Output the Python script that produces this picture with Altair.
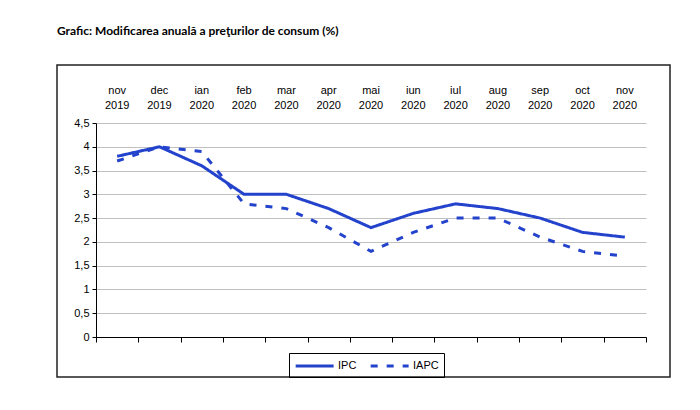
import altair as alt
import pandas as pd

months = ["nov 2019", "dec 2019", "ian 2020", "feb 2020", "mar 2020", "apr 2020", "mai 2020",
          "iun 2020", "iul 2020", "aug 2020", "sep 2020", "oct 2020", "nov 2020"]
ipc = [3.8, 4.0, 3.6, 3.0, 3.0, 2.7, 2.3, 2.6, 2.8, 2.7, 2.5, 2.2, 2.1]
iapc = [3.7, 4.0, 3.9, 2.8, 2.7, 2.3, 1.8, 2.2, 2.5, 2.5, 2.1, 1.8, 1.7]
series = ["IPC", "IAPC"]
y_ticks = [0, 0.5, 1, 1.5, 2, 2.5, 3, 3.5, 4, 4.5]

rows = []
for i, m in enumerate(months):
    rows.append({"luna": m, "serie": "IPC", "valoare": ipc[i], "ord": i})
    rows.append({"luna": m, "serie": "IAPC", "valoare": iapc[i], "ord": i})
df = pd.DataFrame(rows)

BLUE = "#2443cc"
FONT = "Liberation Sans"

xscale = alt.Scale(type="band", paddingInner=0, paddingOuter=0)
yenc = alt.Y("valoare:Q", scale=alt.Scale(domain=[0, 4.5], nice=False),
             axis=alt.Axis(values=y_ticks, title=None, grid=True, gridColor="#c0c0c0",
                           domainColor="black", tickColor="black", tickSize=4,
                           labelPadding=3, labelFontSize=11, labelFont=FONT, labelColor="black",
                           labelExpr="replace(format(datum.value, '.1~f'), '.', ',')"))
color = alt.Color("serie:N", scale=alt.Scale(domain=series, range=[BLUE, BLUE]),
                  legend=alt.Legend(title=None, orient="none", legendX=193, legendY=230,
                                    direction="horizontal", strokeColor="black", padding=5,
                                    symbolType="M-1,0H5", symbolSize=160, symbolStrokeWidth=3,
                                    labelFont=FONT, labelFontSize=11, labelColor="black",
                                    columnPadding=7, labelOffset=28))
dash = alt.StrokeDash("serie:N", scale=alt.Scale(domain=series, range=[[1, 0], [7, 9]]), legend=None)

ipc_layer = alt.Chart(df).transform_filter(alt.datum.serie == "IPC").mark_line(strokeWidth=3).encode(
    x=alt.X("luna:N", sort=months, scale=xscale,
            axis=alt.Axis(orient="top", title=None, domain=False, ticks=False, grid=False,
                          labelAngle=0, labelExpr="split(datum.label, ' ')", labelLineHeight=15,
                          labelPadding=28, labelFontSize=11, labelFont=FONT, labelColor="black")),
    y=yenc, color=color, strokeDash=dash, order="ord:Q")

iapc_layer = alt.Chart(df).transform_filter(alt.datum.serie == "IAPC").mark_line(strokeWidth=3).encode(
    x=alt.X("luna:N", sort=months, scale=xscale,
            axis=alt.Axis(orient="bottom", title=None, labels=False, grid=False,
                          domainColor="black", tickColor="black", tickSize=5, tickBand="extent")),
    y=yenc, color=color, strokeDash=dash, order="ord:Q")

border = alt.Chart(pd.DataFrame({"a": [0]})).mark_rect(fill=None, stroke="#222222", strokeWidth=1.5).encode(
    x=alt.value(-39), x2=alt.value(574), y=alt.value(-58), y2=alt.value(254))

chart = alt.layer(border, ipc_layer, iapc_layer).resolve_axis(x="independent").properties(
    width=550, height=214,
    autosize=alt.AutoSizeParams(type="none"),
    padding={"left": 88, "top": 115, "right": 40, "bottom": 60},
    title=alt.TitleParams("Grafic: Modificarea anuală a preţurilor de consum (%)", anchor="start",
                          frame="group", dx=-39, offset=26, fontSize=12, fontWeight="bold",
                          font="Lato", color="black"),
).configure_view(stroke=None)

chart.save("out.html", embed_options={"renderer": "svg", "actions": False})
